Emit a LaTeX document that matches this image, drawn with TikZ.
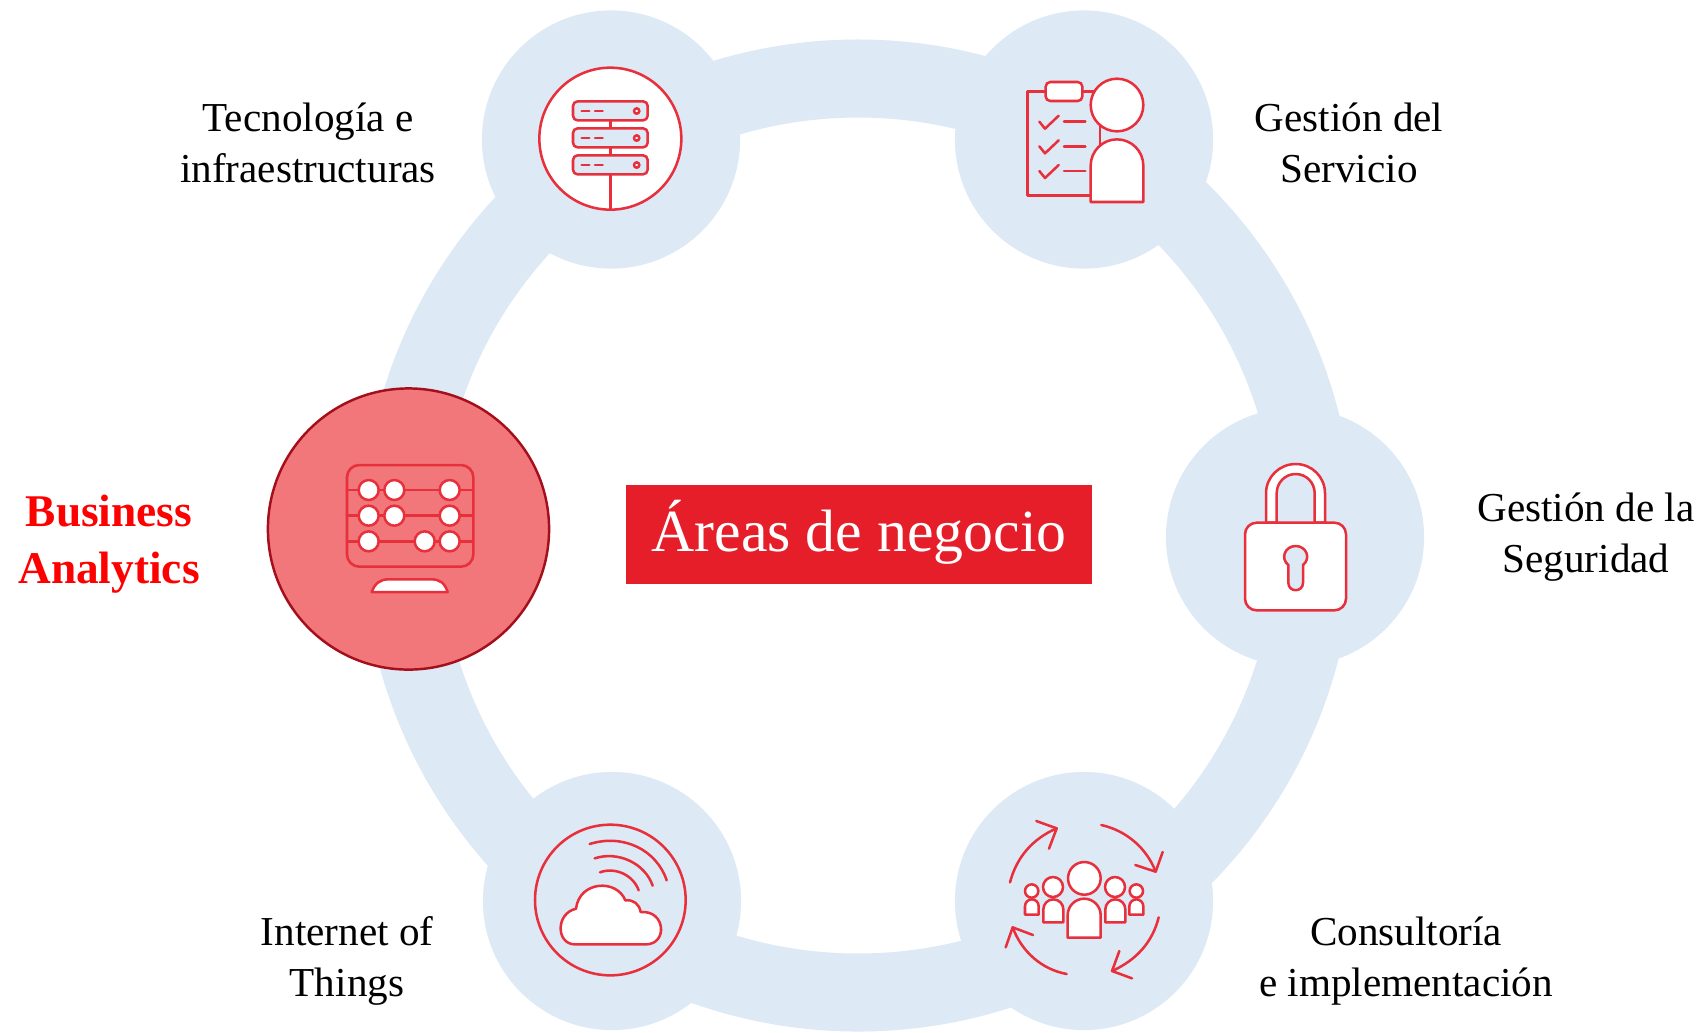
\documentclass[tikz,border=0pt]{standalone}
\usepackage{fontspec}
\setmainfont{Liberation Serif}
\definecolor{ringblue}{HTML}{DDE9F4}
\definecolor{iconred}{HTML}{E8303C}
\definecolor{boxred}{HTML}{E61E2A}
\definecolor{pink}{HTML}{F1777B}
\definecolor{darkrim}{HTML}{A50F1C}
\tikzset{
 hub/.style={circle,fill=ringblue,draw=none,minimum size=2.58cm,inner sep=0pt},
 lab/.style={align=center,font=\fontsize{11.7}{14.5}\selectfont,text=black,inner sep=0pt},
 ic/.style={draw=iconred,line width=0.72pt,line join=round,line cap=round},
 icw/.style={ic,fill=white},
 icb/.style={ic,fill=ringblue},
}
\newcommand{\personbody}[4]{% x0 x1 top bottom
 \pgfmathsetmacro{\rr}{(#2-#1)/2}\pgfmathsetmacro{\xm}{(#1+#2)/2}
 \pgfmathsetmacro{\kk}{0.5523*\rr}
 \filldraw[icw] (#1,#4) -- (#1,#3+\rr) .. controls (#1,#3+\rr-\kk) and (\xm-\kk,#3) .. (\xm,#3)
   .. controls (\xm+\kk,#3) and (#2,#3+\rr-\kk) .. (#2,#3+\rr) -- (#2,#4) -- cycle;
}
\begin{document}
\begin{tikzpicture}[x=0.01cm,y=-0.01cm]
\useasboundingbox (0,0) rectangle (1706,1032);
% ring
\draw[ringblue,line width=0.78cm] (858,535.5) circle[radius=457];
% hubs
\node[hub] (tl) at (611,139.5) {};
\node[hub] (tr) at (1084,139.5) {};
\node[hub] (rr) at (1295,537) {};
\node[hub] (br) at (1084,901) {};
\node[hub] (bl) at (612,901) {};
\node[circle,fill=pink,draw=darkrim,line width=0.7pt,minimum size=2.81cm,inner sep=0pt] (ba) at (408.5,529) {};
% centre
\node[fill=boxred,minimum width=4.66cm,minimum height=0.99cm,inner sep=0pt] (titlebox) at (859,534.5) {};
\node[text=white,inner sep=0pt,font=\fontsize{17}{20}\selectfont] (title) at (859,532.5) {Áreas de negocio};
% labels
\node[lab] (l1) at (308,143) {Tecnología e\\infraestructuras};
\node[lab] (l2) at (1349,143) {Gestión del\\Servicio};
\node[lab] (l3) at (1586,537.5) {Gestión de la\\Seguridad};
\node[lab] (l4) at (1406,961.5) {Consultoría\\e implementación};
\node[lab] (l5) at (347,960.5) {Internet of\\Things};
\node[align=center,inner sep=0pt,text={rgb,255:red,255;green,0;blue,0},font=\fontsize{12.9}{16.3}\selectfont\bfseries] (l6) at (109,544) {Business\\Analytics};
% icon: servers
\begin{scope}[shift={(500,40)},scale=1/3]
 \filldraw[icw] (331,296) circle[radius=213];
 \draw[ic] (331,241)--(331,265) (331,322)--(331,346) (331,403)--(331,509);
 \foreach \t in {184,265,346}{
  \filldraw[icb,rounded corners=1.3pt] (219,\t) rectangle (443,\t+57);
  \draw[ic] (245,\t+29)--(268,\t+29) (285,\t+29)--(308,\t+29);
  \draw[ic,fill=white] (410,\t+29) circle[radius=8];
 }
\end{scope}
% icon: clipboard and person
\begin{scope}[shift={(1000,50)},scale=1/3]
 \draw[ic] (300,436)--(83,436)--(83,124)--(300,124)--cycle;
 \filldraw[icw,rounded corners=1.3pt] (137,96) rectangle (247,153);
 \foreach \d in {0,74,148}{
  \draw[ic] (118,\d+215)--(135,\d+236)--(176,\d+197);
  \draw[ic] (192,\d+215)--(256,\d+215);
 }
 \filldraw[icw] (351,165) circle[radius=79];
 \personbody{272}{430}{268}{456}
\end{scope}
% icon: abacus
\begin{scope}[shift={(320,440)},scale=1/3]
 \draw[ic,rounded corners=3.5pt] (81,75) rectangle (460,380);
 \foreach \t in {150,227,304}{\draw[ic] (81,\t)--(460,\t);}
 \foreach \p/\q in {146/150,223/150,389/150,146/227,223/227,389/227,146/304,314/304,389/304}
  \filldraw[icw] (\p,\q) circle[radius=30];
 \filldraw[icw] (155,456) .. controls (165,430) and (180,418) .. (205,418) -- (335,418)
   .. controls (360,418) and (375,430) .. (383,456) -- cycle;
\end{scope}
% icon: padlock
\begin{scope}[shift={(1220,450)},scale=1/3]
 \filldraw[icw] (138,218)--(138,130) .. controls (138,81) and (178,42) .. (227,42)
   .. controls (276,42) and (315,81) .. (315,130) -- (315,218) -- (284,218) -- (284,130)
   .. controls (284,98) and (259,72) .. (227,72) .. controls (195,72) and (170,98) .. (170,130) -- (170,218) -- cycle;
 \filldraw[icw,rounded corners=3.3pt] (75,218) rectangle (378,481);
 \filldraw[icb] (205,345) .. controls (180,325) and (195,288) .. (227,288)
   .. controls (259,288) and (274,325) .. (249,345) -- (249,398)
   .. controls (249,428) and (205,428) .. (205,398) -- cycle;
\end{scope}
% icon: cloud
\begin{scope}[shift={(520,810)},scale=1/3]
 \draw[ic] (271,270) circle[radius=226];
 \draw[ic] (209,102) .. controls (310,70) and (410,120) .. (440,211);
 \draw[ic] (224,145) .. controls (295,122) and (375,160) .. (398,227);
 \draw[ic] (240,187) .. controls (285,170) and (340,195) .. (356,241);
 \filldraw[icw] (165,403) .. controls (108,403) and (106,310) .. (168,296)
   .. controls (178,212) and (290,206) .. (316,271)
   .. controls (340,268) and (358,282) .. (362,306)
   .. controls (438,300) and (443,403) .. (378,403) -- cycle;
\end{scope}
% icon: consulting
\begin{scope}[shift={(990,810)},scale=1/3]
 \draw[ic] (60,217) .. controls (80,140) and (130,85) .. (200,55);
 \draw[ic] (139,33)--(200,55)--(177,116);
 \draw[ic] (334,45) .. controls (410,62) and (470,115) .. (497,185);
 \draw[ic] (436,165)--(497,185)--(518,126);
 \draw[ic] (506,322) .. controls (488,395) and (440,450) .. (366,483);
 \draw[ic] (388,423)--(366,483)--(426,505);
 \draw[ic] (230,492) .. controls (155,478) and (95,425) .. (68,352);
 \draw[ic] (47,412)--(68,352)--(129,375);
 \filldraw[icw] (283,205) circle[radius=49];
 \personbody{233}{332}{266}{383}
 \filldraw[icw] (189,231) circle[radius=30];
 \personbody{160}{220}{268}{337}
 \filldraw[icw] (375,231) circle[radius=30];
 \personbody{346}{406}{268}{337}
 \filldraw[icw] (125,243) circle[radius=20];
 \personbody{105}{146}{268}{314}
 \filldraw[icw] (439,243) circle[radius=20];
 \personbody{418}{460}{268}{314}
\end{scope}
\end{tikzpicture}
\end{document}
